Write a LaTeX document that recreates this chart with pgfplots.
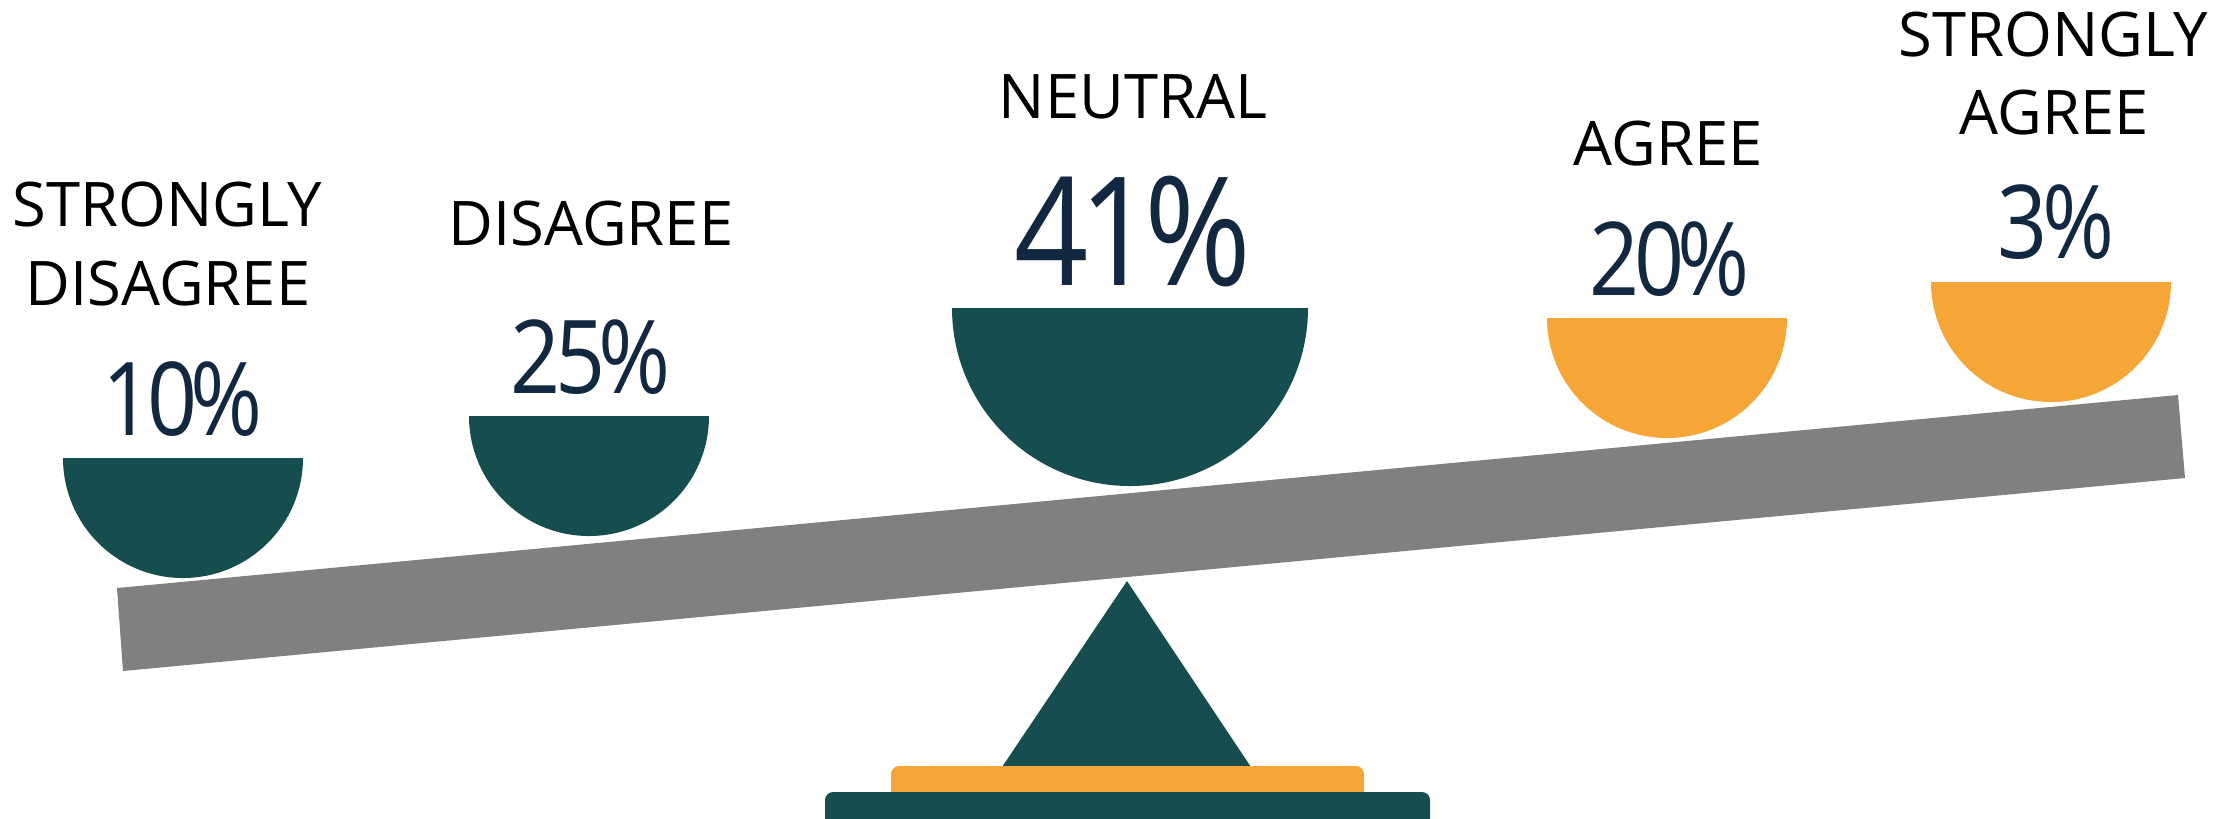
\documentclass[border=0pt]{standalone}
\usepackage{pgfplots}
\pgfplotsset{compat=1.18}
\usepackage{graphicx}
\usepackage{fontspec}
\setmainfont{Open Sans}
\newfontfamily\numfont[LetterSpace=-7]{Open Sans}

\definecolor{bowlteal}{RGB}{22,77,78}
\definecolor{bowlorange}{RGB}{245,166,54}
\definecolor{beamgray}{RGB}{128,128,128}
\definecolor{pctnavy}{RGB}{17,40,64}

\newcommand\lab{\fontsize{17.5pt}{21pt}\selectfont}
\newcommand\pct[2]{\scalebox{0.86}[1]{\numfont\fontsize{#1}{#1}\selectfont #2\%}}

% half disc hanging below the data point
\pgfdeclareplotmark{bowl}{%
  \pgfpathmoveto{\pgfpoint{-\pgfplotmarksize}{0pt}}%
  \pgfpatharc{180}{360}{\pgfplotmarksize}%
  \pgfpathclose
  \pgfusepathqfill
}

\begin{document}
\begin{tikzpicture}
\begin{axis}[
  width=22.34cm, height=8.18cm, scale only axis,
  xmin=0, xmax=2234, ymin=0, ymax=818, y dir=reverse,
  hide axis, clip=true,
]
\addplot[draw=none, forget plot] coordinates {(0,0) (2234,818)};
% beam
\addplot[fill=beamgray, draw=none] coordinates {(117,588) (2178,395) (2185,478) (123,671)} -- cycle;
% fulcrum
\addplot[fill=bowlteal, draw=none] coordinates {(1127,581) (1253,770) (1000,770)} -- cycle;
\addplot[fill=bowlorange, draw=none, rounded corners=0.8mm] coordinates {(891,800) (891,766) (1364,766) (1364,800)} -- cycle;
\addplot[fill=bowlteal, draw=none, rounded corners=0.8mm] coordinates {(825,835) (825,792) (1430,792) (1430,835)} -- cycle;
% bowls
\addplot[only marks, mark=bowl, mark size=12mm, color=bowlteal] coordinates {(183,458) (589,416)};
\addplot[only marks, mark=bowl, mark size=17.8mm, color=bowlteal] coordinates {(1130,308)};
\addplot[only marks, mark=bowl, mark size=12mm, color=bowlorange] coordinates {(1667,318) (2051,282)};

% category labels
\begin{scope}[every node/.style={anchor=base, inner sep=0pt, font=\lab}]
\node at (axis cs:167,226) {STRONGLY};
\node at (axis cs:168,305) {DISAGREE};
\node at (axis cs:591,245) {DISAGREE};
\node at (axis cs:1133,118) {NEUTRAL};
\node at (axis cs:1668,165) {AGREE};
\node at (axis cs:2053,56) {STRONGLY};
\node at (axis cs:2054,134) {AGREE};
\end{scope}
% percentages
\begin{scope}[every node/.style={anchor=base, inner sep=0pt, text=pctnavy}]
\node at (axis cs:183,435) {\pct{29pt}{10}};
\node at (axis cs:591,393) {\pct{29pt}{25}};
\node at (axis cs:1133,285) {\pct{43pt}{41}};
\node at (axis cs:1670,295) {\pct{29pt}{20}};
\node at (axis cs:2056,258) {\pct{29pt}{3}};
\end{scope}
\end{axis}
\end{tikzpicture}
\end{document}
